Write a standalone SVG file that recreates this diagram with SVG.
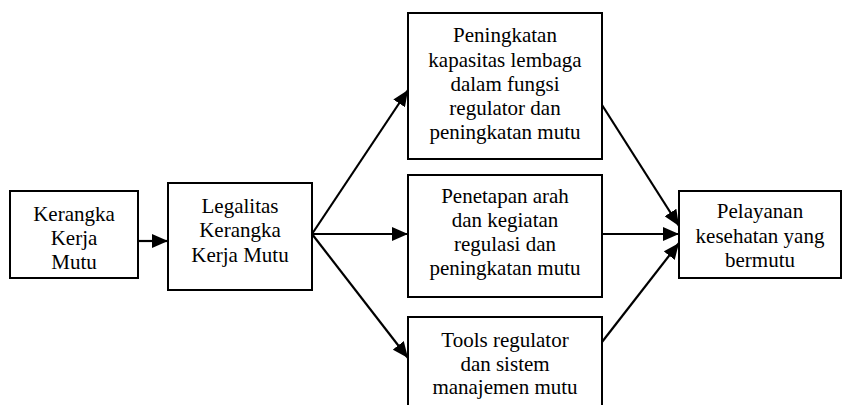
<svg xmlns="http://www.w3.org/2000/svg" width="843" height="405" viewBox="0 0 843 405">
<defs>
<marker id="ah" markerWidth="16" markerHeight="14" refX="16" refY="7" orient="auto" markerUnits="userSpaceOnUse">
<path d="M0,0 L16,7 L0,14 Z" fill="#000"/>
</marker>
<style>
.box{fill:#fff;stroke:#000;stroke-width:2}
.t{font-size:21px;fill:#000;text-anchor:middle}
.c{stroke:#000;stroke-width:2.2;fill:none;marker-end:url(#ah)}
</style>
</defs>
<rect width="843" height="405" fill="#fff"/>
<g id="n1" font-family="'Liberation Serif', 'Times New Roman', serif"><rect class="box" x="10" y="191" width="128" height="87"/>
<text class="t" x="74" y="221">Kerangka</text><text class="t" x="74" y="245">Kerja</text><text class="t" x="74" y="269">Mutu</text></g>
<g id="n2" font-family="'Liberation Serif', 'Times New Roman', serif"><rect class="box" x="168" y="183" width="144" height="107"/>
<text class="t" x="240" y="213">Legalitas</text><text class="t" x="240" y="237">Kerangka</text><text class="t" x="240" y="262">Kerja Mutu</text></g>
<g id="n3" font-family="'Liberation Serif', 'Times New Roman', serif"><rect class="box" x="408" y="13" width="194" height="146"/>
<text class="t" x="505" y="42">Peningkatan</text><text class="t" x="505" y="67">kapasitas lembaga</text><text class="t" x="505" y="91">dalam fungsi</text><text class="t" x="505" y="115">regulator dan</text><text class="t" x="505" y="139">peningkatan mutu</text></g>
<g id="n4" font-family="'Liberation Serif', 'Times New Roman', serif"><rect class="box" x="408" y="175" width="194" height="122"/>
<text class="t" x="505" y="203">Penetapan arah</text><text class="t" x="505" y="227">dan kegiatan</text><text class="t" x="505" y="251">regulasi dan</text><text class="t" x="505" y="275">peningkatan mutu</text></g>
<g id="n5" font-family="'Liberation Serif', 'Times New Roman', serif"><rect class="box" x="408" y="317" width="194" height="95"/>
<text class="t" x="505" y="347">Tools regulator</text><text class="t" x="505" y="371">dan sistem</text><text class="t" x="505" y="394">manajemen mutu</text></g>
<g id="n6" font-family="'Liberation Serif', 'Times New Roman', serif"><rect class="box" x="679" y="191" width="162" height="87"/>
<text class="t" x="760" y="218">Pelayanan</text><text class="t" x="760" y="243">kesehatan yang</text><text class="t" x="760" y="267">bermutu</text></g>
<g id="connectors">
<line class="c" x1="138" y1="241" x2="168" y2="241"/>
<line class="c" x1="312" y1="234" x2="408" y2="90"/>
<line class="c" x1="312" y1="234" x2="408" y2="234"/>
<line class="c" x1="312" y1="234" x2="408" y2="358"/>
<line class="c" x1="602" y1="105" x2="679" y2="226"/>
<line class="c" x1="602" y1="234" x2="679" y2="234"/>
<line class="c" x1="602" y1="342" x2="679" y2="243"/>
</g>
</svg>
